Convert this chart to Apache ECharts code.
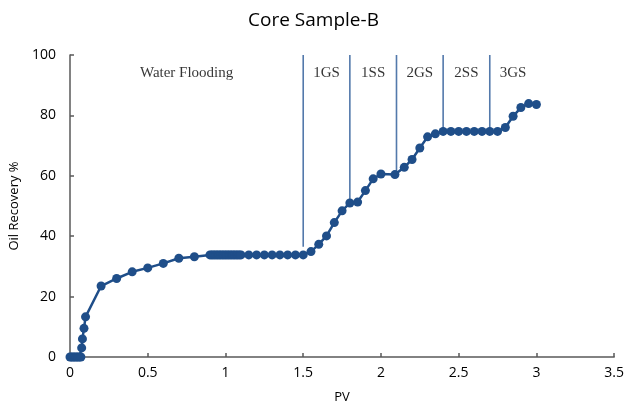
<!DOCTYPE html>
<html>
<head>
<meta charset="utf-8">
<script src="https://cdn.jsdelivr.net/npm/echarts@6/dist/echarts.min.js"></script>
<style>html,body{margin:0;padding:0;background:#fff}#c{width:627px;height:412px}</style>
</head>
<body>
<div id="c"></div>
<script>
const pvValues = [0,0.01,0.02,0.03,0.04,0.05,0.06,0.07,0.075,0.08,0.09,0.1,
  0.2,0.3,0.4,0.5,0.6,0.7,0.8,
  0.9,0.91,0.92,0.93,0.94,0.95,0.96,0.97,0.98,0.99,1.0,1.01,1.02,1.03,1.04,1.05,1.06,1.07,1.08,1.09,1.1,
  1.15,1.2,1.25,1.3,1.35,1.4,1.45,1.5,
  1.55,1.6,1.65,1.7,1.75,1.8,1.85,1.9,1.95,2.0,2.09,2.15,2.2,2.25,2.3,2.35,2.4,
  2.45,2.5,2.55,2.6,2.65,2.7,2.75,2.8,2.85,2.9,2.95,3.0];
const recoveryValues = [0,0,0,0,0,0,0,0,3,6,9.5,13.3,
  23.5,26,28.2,29.5,31,32.7,33.2,
  33.8,33.8,33.8,33.8,33.8,33.8,33.8,33.8,33.8,33.8,33.8,33.8,33.8,33.8,33.8,33.8,33.8,33.8,33.8,33.8,33.8,
  33.8,33.8,33.8,33.8,33.8,33.8,33.8,33.8,
  34.9,37.3,40.1,44.5,48.4,51,51.3,55.1,59,60.6,60.4,62.8,65.4,69.2,72.9,73.9,74.7,
  74.7,74.7,74.7,74.7,74.7,74.7,74.7,76,79.7,82.6,83.9,83.6];
const stageEdges = [0,1.5,1.8,2.1,2.4,2.7,3.0];
const stageNames = ['Water Flooding','1GS','1SS','2GS','2SS','3GS'];
const boundaryBottoms = [36.5,51,61,75,75];
const boundaryTop = 100;
const xTicks = [0,0.5,1,1.5,2,2.5,3,3.5];
const yTicks = [0,20,40,60,80,100];

const curve = pvValues.map((x,i)=>[x,recoveryValues[i]]);
const boundarySeries = stageEdges.slice(1,6).map((x,i)=>({
  type:'line', data:[[x,boundaryBottoms[i]],[x,boundaryTop]], symbol:'none',
  lineStyle:{color:'#5379AB',width:1.6}, silent:true, z:1
}));
const labelData = stageNames.map((n,i)=>({value:[(stageEdges[i]+stageEdges[i+1])/2, 94], name:n}));

const chart = echarts.init(document.getElementById('c'));
chart.setOption({
  animation:false,
  title:{text:'Core Sample-B',left:'center',top:6,textStyle:{fontFamily:'Open Sans',fontSize:19,fontWeight:'normal',color:'#000'}},
  grid:{left:70,right:11,top:55,bottom:55},
  xAxis:{type:'value',min:0,max:3.5,interval:0.5,name:'PV',nameLocation:'middle',nameGap:34,
    nameTextStyle:{fontFamily:'Open Sans',fontSize:13,color:'#000'},
    axisLine:{lineStyle:{color:'#595959',width:1.5}},
    axisTick:{inside:true,length:4,lineStyle:{color:'#595959',width:1.5}},
    axisLabel:{fontFamily:'Open Sans',fontSize:14,color:'#000',margin:9,formatter:v=>String(v)},
    splitLine:{show:false}},
  yAxis:{type:'value',min:0,max:100,interval:20,name:'Oil Recovery %',nameLocation:'middle',nameGap:47,
    nameTextStyle:{fontFamily:'Open Sans',fontSize:13,color:'#000'},
    axisLine:{show:true,lineStyle:{color:'#595959',width:1.5}},
    axisTick:{show:true,inside:true,length:4,lineStyle:{color:'#595959',width:1.5}},
    axisLabel:{fontFamily:'Open Sans',fontSize:14,color:'#000',margin:14},
    splitLine:{show:false}},
  series:[
    ...boundarySeries,
    {type:'line',data:curve,symbol:'circle',symbolSize:9,
     lineStyle:{color:'#1F4E89',width:2.5},itemStyle:{color:'#1F4E89'},z:3},
    {type:'scatter',data:labelData,symbolSize:0,silent:true,
     label:{show:true,position:'inside',formatter:p=>p.name,fontFamily:'Liberation Serif',fontSize:15,color:'#000'}}
  ]
});
</script>
</body>
</html>
